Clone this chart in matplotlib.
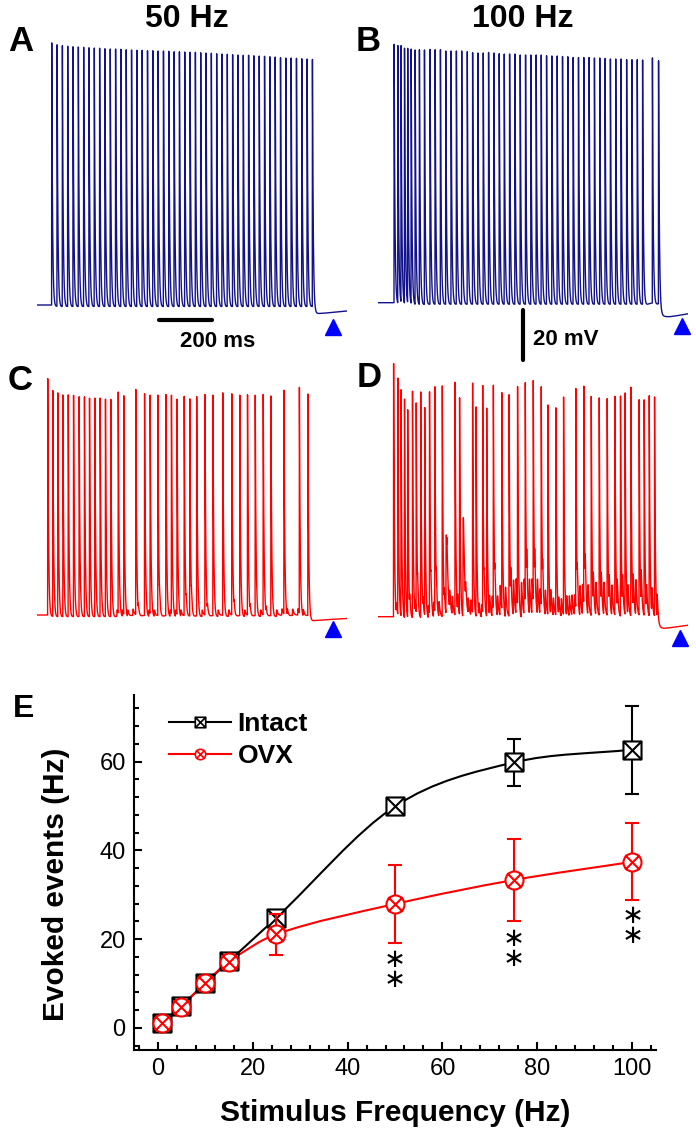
import numpy as np
import matplotlib

matplotlib.use("Agg")
import matplotlib.pyplot as plt
from matplotlib.lines import Line2D
from matplotlib.patches import PathPatch
from matplotlib.path import Path
from matplotlib.ticker import MultipleLocator

plt.rcParams["font.family"] = ["Liberation Sans", "DejaVu Sans"]

W, H = 696, 1136

# ---------------------------------------------------------------- panel E
stim_freq = [1, 5, 10, 15, 25, 50, 75, 100]
intact_mean = [1.0, 5.0, 10.0, 15.0, 24.8, 49.9, 59.8, 62.7]
intact_sem = [0.5, 0.5, 0.5, 0.8, 1.2, 1.0, 5.2, 9.9]
ovx_mean = [1.0, 4.8, 10.1, 14.9, 21.1, 27.9, 33.3, 37.4]
ovx_sem = [0.8, 0.8, 0.8, 1.2, 4.6, 8.7, 9.2, 8.7]
sig_freq = [50, 75, 100]
sig_level = [13.0, 17.8, 22.9]   # centre of each "**" pair

# ---------------------------------------------------------------- traces
# spike times (ms from start of sweep) and spike peaks (mV), rest -65 mV
a_spike_t = [56, 76, 96, 116, 136, 156, 176, 196, 216, 236,
             256, 276, 296, 316, 336, 356, 376, 396, 416, 436,
             456, 476, 496, 516, 536, 556, 576, 596, 616, 636,
             656, 676, 696, 716, 736, 756, 776, 796, 816, 836,
             856, 876, 896, 916, 936, 956, 976, 996, 1016, 1036]
a_spike_v = [41.3, 41.0, 40.7, 40.5, 40.3, 40.2, 40.1, 39.9, 39.8, 39.7,
             39.5, 39.4, 39.4, 39.3, 39.1, 39.0, 38.9, 38.9, 38.7, 38.7,
             38.6, 38.6, 38.5, 38.3, 38.3, 38.2, 38.1, 38.1, 37.9, 37.8,
             37.7, 37.5, 37.4, 37.3, 37.1, 37.0, 36.9, 36.9, 36.7, 36.6,
             36.5, 36.3, 36.2, 35.9, 35.8, 35.8, 35.7, 35.5, 35.4, 35.4]

b_spike_t = [59, 73, 85, 98, 110, 123, 138, 154, 173, 194,
             213, 233, 253, 273, 293, 313, 334, 354, 374, 394,
             414, 434, 454, 473, 493, 513, 533, 553, 573, 593,
             612, 632, 652, 672, 692, 712, 732, 752, 772, 792,
             812, 832, 852, 872, 892, 912, 933, 953, 973, 993,
             1030, 1053]
b_spike_v = [39.8, 39.4, 39.0, 38.5, 38.1, 38.2, 38.2, 38.3, 38.2, 38.3,
             38.2, 38.2, 37.7, 37.7, 37.7, 37.7, 37.4, 37.0, 36.9, 36.9,
             37.1, 36.9, 36.6, 36.5, 36.5, 36.5, 36.1, 36.1, 36.1, 36.1,
             36.1, 35.8, 35.7, 35.7, 35.5, 35.4, 35.1, 35.1, 35.1, 35.1,
             34.9, 34.9, 34.7, 34.5, 34.5, 34.5, 34.2, 34.2, 34.2, 34.1,
             34.5, 33.9]

c_spike_t = [41, 60, 79, 98, 118, 138, 159, 179, 198, 218,
             238, 258, 278, 306, 327, 372, 405, 426, 455, 485,
             506, 527, 554, 575, 601, 632, 662, 699, 733, 763,
             792, 821, 851, 880, 929, 987, 1019]
c_spike_v = [31.0, 26.7, 25.9, 25.1, 25.1, 24.9, 24.3, 24.3, 23.8, 23.8,
             23.8, 23.4, 23.3, 24.9, 23.8, 26.5, 25.1, 23.8, 24.6, 24.9,
             23.8, 22.5, 24.1, 23.3, 24.1, 24.6, 24.6, 25.4, 24.9, 24.6,
             24.6, 24.6, 24.6, 24.3, 25.9, 26.7, 25.1]
c_stim_t = [41, 61, 81, 101, 121, 141, 161, 181, 201, 221,
            241, 261, 281, 301, 321, 341, 361, 381, 401, 421,
            441, 461, 481, 501, 521, 541, 561, 581, 601, 621,
            641, 661, 681, 701, 721, 741, 761, 781, 801, 821,
            841, 861, 881, 901, 921, 941, 961, 981, 1001, 1021]
c_epsp_mv = [2.5] * 10  # one value per 100 ms of stimulation

d_spike_t = [57, 73, 85, 98, 110, 128, 142, 159, 174, 192,
             212, 240, 288, 305, 354, 367, 392, 407, 432, 464,
             491, 523, 552, 582, 612, 637, 667, 696, 742, 772,
             800, 830, 860, 889, 910, 927, 949, 980, 999, 1018,
             1038]
d_spike_v = [37.7, 31.0, 27.0, 23.9, 19.4, 27.0, 20.3, 26.7, 19.4, 25.0,
             26.3, 28.7, 29.5, 23.1, 28.2, 20.3, 27.1, 19.7, 25.8, 23.0,
             25.0, 23.7, 23.9, 24.7, 23.9, 20.2, 19.3, 23.4, 24.1, 23.4,
             24.1, 23.4, 23.1, 23.9, 24.5, 25.1, 27.9, 22.6, 22.7, 24.5,
             24.2]
d_stim_t = [57, 67, 77, 87, 97, 107, 117, 127, 137, 147,
            157, 167, 177, 187, 197, 207, 217, 227, 237, 247,
            257, 267, 277, 287, 297, 307, 317, 327, 337, 347,
            357, 367, 377, 387, 397, 407, 417, 427, 437, 447,
            457, 467, 477, 487, 497, 507, 517, 527, 537, 547,
            557, 567, 577, 587, 597, 607, 617, 627, 637, 647,
            657, 667, 677, 687, 697, 707, 717, 727, 737, 747,
            757, 767, 777, 787, 797, 807, 817, 827, 837, 847,
            857, 867, 877, 887, 897, 907, 917, 927, 937, 947,
            957, 967, 977, 987, 997, 1007, 1017, 1027, 1037, 1047]
# subthreshold EPSP size, one value per 50 ms of stimulation
d_epsp_mv = [4, 5, 5, 6, 7, 6, 5, 8, 12, 14,
             14, 10, 7, 8, 12, 13, 12, 12, 14, 10]
d_hump_t = [254, 318]
d_hump_v = [-33.0, -30.0]

REST = -65.0
PX_MS = 0.266   # pixels per ms in the trace panels
PX_MV = 2.5     # pixels per mV
BLUE = "#12128a"
RED = "#ff0000"


def fx(x):
    return x / W


def fy(y):
    return 1 - y / H


def alpha(s, tau_r, tau_d):
    out = np.zeros_like(s)
    on = s >= 0
    out[on] = (1 - np.exp(-s[on] / tau_r)) * np.exp(-s[on] / tau_d)
    tp = tau_r * np.log((tau_r + tau_d) / tau_r)
    peak = (1 - np.exp(-tp / tau_r)) * np.exp(-tp / tau_d)
    return out / peak


def spike_shape(s, rise=0.6, decay=3.0):
    out = np.zeros_like(s)
    up = (s >= 0) & (s < rise)
    out[up] = s[up] / rise
    down = s >= rise
    out[down] = np.exp(-(s[down] - rise) / decay)
    return out


def build_trace(t, spike_t, spike_v, fast_ahp, post_ahp,
                stim_t=(), epsp=(), bin_ms=50, hump_t=(), hump_v=()):
    v = np.full_like(t, REST)
    for ts, vp in zip(spike_t, spike_v):
        s = t - ts
        v += (vp - REST) * spike_shape(s) - fast_ahp * alpha(s, 1.5, 10.0)
    spikes = np.asarray(spike_t, float)
    for ts in stim_t:
        if np.min(np.abs(spikes - ts)) > 4:
            amp = epsp[min(int((ts - stim_t[0]) // bin_ms), len(epsp) - 1)]
            v += amp * alpha(t - ts, 0.8, 4.0)
    for ts, vp in zip(hump_t, hump_v):
        v += (vp - REST) * alpha(t - ts, 1.0, 5.0)
    v -= post_ahp * alpha(t - spike_t[-1], 15.0, 250.0)
    return v


def trace_axes(fig, x0, y_rest, t_end, v_lo=-80.0, v_hi=45.0):
    left, right = x0, x0 + t_end * PX_MS
    top = y_rest - (v_hi - REST) * PX_MV
    bot = y_rest + (REST - v_lo) * PX_MV
    ax = fig.add_axes([fx(left), fy(bot), (right - left) / W, (bot - top) / H])
    ax.set_xlim(0, t_end)
    ax.set_ylim(v_lo, v_hi)
    ax.axis("off")
    return ax


def spline_path(x, y):
    x = np.asarray(x, float)
    y = np.asarray(y, float)
    m = np.empty(len(x))
    m[0] = (y[1] - y[0]) / (x[1] - x[0])
    m[-1] = (y[-1] - y[-2]) / (x[-1] - x[-2])
    m[1:-1] = (y[2:] - y[:-2]) / (x[2:] - x[:-2])
    verts = [(x[0], y[0])]
    codes = [Path.MOVETO]
    for i in range(len(x) - 1):
        h = x[i + 1] - x[i]
        verts += [(x[i] + h / 3, y[i] + m[i] * h / 3),
                  (x[i + 1] - h / 3, y[i + 1] - m[i + 1] * h / 3),
                  (x[i + 1], y[i + 1])]
        codes += [Path.CURVE4] * 3
    return Path(verts, codes)


fig = plt.figure(figsize=(W / 100, H / 100), dpi=100)

T_END = 1165
t = np.arange(0, T_END, 0.05)

panels = [
    ("A", 36.7, 305.0, a_spike_t, a_spike_v, BLUE, 3.0, 3.2, {}),
    ("B", 378.3, 302.7, b_spike_t, b_spike_v, BLUE, 3.0, 5.5, {}),
    ("C", 36.7, 615.0, c_spike_t, c_spike_v, RED, 3.0, 2.0,
     dict(stim_t=c_stim_t, epsp=c_epsp_mv, bin_ms=100)),
    ("D", 378.3, 616.7, d_spike_t, d_spike_v, RED, 3.0, 4.5,
     dict(stim_t=d_stim_t, epsp=d_epsp_mv, bin_ms=50,
          hump_t=d_hump_t, hump_v=d_hump_v)),
]
trace_ax = {}
for name, x0, y_rest, st, sv, col, fahp, pahp, extra in panels:
    ax = trace_axes(fig, x0, y_rest, T_END)
    v = build_trace(t, st, sv, fahp, pahp, **extra)
    ax.plot(t, v, color=col, lw=1.0)
    trace_ax[name] = ax

# end-of-train markers
for name, tt, vv in [("A", 1114, -73.6), ("B", 1141, -74.5),
                     ("C", 1114, -70.6), ("D", 1134, -73.5)]:
    trace_ax[name].plot(tt, vv, marker="^", color="#0000ff", ms=12,
                        clip_on=False)

# scale bars
trace_ax["A"].plot([459, 659], [-71, -71], color="k", lw=3,
                   solid_capstyle="round", clip_on=False)
trace_ax["B"].plot([544, 544], [-87.9, -67.9], color="k", lw=3,
                   solid_capstyle="round", clip_on=False)
fig.text(fx(218), fy(341.5), "200 ms", fontsize=16, fontweight="bold",
         ha="center", va="center")
fig.text(fx(533), fy(340), "20 mV", fontsize=16, fontweight="bold",
         ha="left", va="center")

fig.text(fx(187), fy(19), "50 Hz", fontsize=23, fontweight="bold",
         ha="center", va="center")
fig.text(fx(523), fy(19), "100 Hz", fontsize=23, fontweight="bold",
         ha="center", va="center")
for letter, x, y, size in [("A", 20.5, 41.5, 25), ("B", 368, 41.5, 25),
                           ("C", 20, 381, 25), ("D", 369, 377.5, 25),
                           ("E", 24, 709, 23)]:
    fig.text(fx(x), fy(y), letter, fontsize=size, fontweight="bold",
             ha="center", va="center")

# ---------------------------------------------------------------- panel E
sq_x = Path([(-1, -1), (1, -1), (1, 1), (-1, 1), (-1, -1),
             (-1, -1), (1, 1), (-1, 1), (1, -1)],
            [Path.MOVETO, Path.LINETO, Path.LINETO, Path.LINETO, Path.CLOSEPOLY,
             Path.MOVETO, Path.LINETO, Path.MOVETO, Path.LINETO])
circ_x = Path.make_compound_path(
    Path.unit_circle(),
    Path([(-0.8, -0.8), (0.8, 0.8), (-0.8, 0.8), (0.8, -0.8)],
         [Path.MOVETO, Path.LINETO, Path.MOVETO, Path.LINETO]))

ax = fig.add_axes([fx(134), fy(1050), 522 / W, 355 / H])
for mean, sem, col, mk in [(intact_mean, intact_sem, "black", sq_x),
                           (ovx_mean, ovx_sem, RED, circ_x)]:
    ax.errorbar(stim_freq, mean, yerr=sem, fmt="none", ecolor=col,
                elinewidth=1.5, capsize=5, capthick=1.5)
    ax.add_patch(PathPatch(spline_path(stim_freq, mean), fc="none",
                           ec=col, lw=1.5))
    ax.plot(stim_freq, mean, ls="none", marker=mk, ms=13, mfc="white",
            mec=col, mew=1.5)

for x, y in zip(sig_freq, sig_level):
    ax.text(x, y, "\u2217\n\u2217", ha="center", va="center", fontsize=19,
            family="DejaVu Sans", linespacing=0.72)

ax.set_xlim(-5, 105)
ax.set_ylim(-5, 75)
ax.xaxis.set_major_locator(MultipleLocator(20))
ax.xaxis.set_minor_locator(MultipleLocator(4))
ax.yaxis.set_major_locator(MultipleLocator(20))
ax.yaxis.set_minor_locator(MultipleLocator(4))
ax.tick_params(which="both", direction="in", width=1.5, labelsize=17, pad=6)
ax.tick_params(which="major", length=6)
ax.tick_params(which="minor", length=3.5)
for side in ("top", "right"):
    ax.spines[side].set_visible(False)
for side in ("left", "bottom"):
    ax.spines[side].set_linewidth(1.5)

ax.set_xlabel("Stimulus Frequency (Hz)", fontsize=21.5, fontweight="bold",
              va="center")
ax.xaxis.set_label_coords(0.5, (1050 - 1113) / 355)
ax.set_ylabel("Evoked events (Hz)", fontsize=21.5, fontweight="bold",
              va="center")
ax.yaxis.set_label_coords((56.5 - 134) / 522, (1050 - 884.5) / 355)

handles = [
    Line2D([], [], color="black", lw=1.5, marker=sq_x, ms=7.5, mfc="white",
           mew=1.2),
    Line2D([], [], color=RED, lw=1.5, marker=circ_x, ms=7.5, mfc="white",
           mew=1.2),
]
ax.legend(handles, ["Intact", "OVX"], loc="upper left",
          bbox_to_anchor=((169 - 134) / 522, (1050 - 712) / 355),
          frameon=False, prop={"size": 19, "weight": "bold"},
          handlelength=2.35, handletextpad=0.25, labelspacing=0.3,
          borderpad=0, borderaxespad=0)

fig.savefig("out.png", dpi=100)
